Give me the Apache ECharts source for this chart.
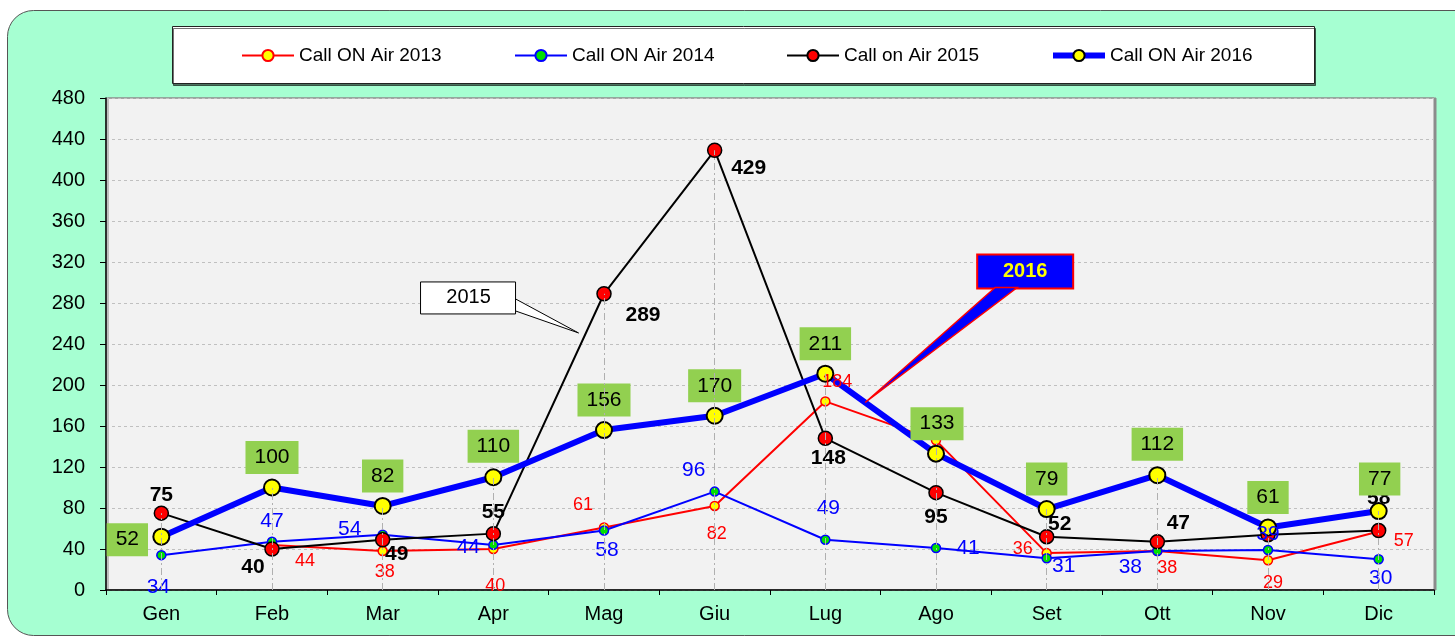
<!DOCTYPE html>
<html>
<head>
    <title>Call ON Air 2013-2016</title>
    <meta charset="utf-8" />
    <script src="https://cdn.jsdelivr.net/npm/echarts@6.0.0/dist/echarts.min.js"></script>
    <style type="text/css">
        html,
        body {
            width: 100%;
            height: 100%;
            margin: 0;
            background: #ffffff;
        }

        #main {
            width: 1455px;
            height: 639px;
        }
    </style>
</head>

<body>
    <div id="main"></div>
    <script>
        var months = ['Gen', 'Feb', 'Mar', 'Apr', 'Mag', 'Giu', 'Lug', 'Ago', 'Set', 'Ott', 'Nov', 'Dic'];
        var names = ['Call ON Air 2013', 'Call ON Air 2014', 'Call on Air 2015', 'Call ON Air 2016'];
        var call2013 = [null, 44, 38, 40, 61, 82, 184, 146, 36, 38, 29, 57];
        var call2014 = [34, 47, 54, 44, 58, 96, 49, 41, 31, 38, 39, 30];
        var call2015 = [75, 40, 49, 55, 289, 429, 148, 95, 52, 47, 54, 58];
        var call2016 = [52, 100, 82, 110, 156, 170, 211, 133, 79, 112, 61, 77];
        var yMin = 0, yMax = 480, yStep = 40;

        // posizione delle etichette rispetto al punto (pixel)
        var off2013 = [[0, 0], [33, 16], [2, 21], [2, 37], [-21, -22], [2, 28], [12, -19], [0, -20], [-24, -4], [10, 17], [5, 23], [25, 9]];
        var off2014 = [[-3, 32], [0, -21], [-33, -5], [-25, 2], [3, 20], [-21, -21], [3, -32], [32, 0], [17, 8], [-27, 16], [0, -16], [2, 19]];
        var off2015 = [[0, -18], [-19, 18], [14, 14], [0, -21], [39, 21], [34, 18], [3, 20], [0, 25], [13, -12], [21, -19], [0, -29], [0, -32]];
        var off2016 = [[-34, 3], [0, -30], [0, -30], [0, -31], [0, -30], [0, -30], [0, -30], [1, -30], [0, -30], [0, -31], [0, -30], [1, -32]];

        var font = "'Liberation Sans', Arial, sans-serif";

        function build(values, offs) {
            return values.map(function (v, i) {
                return { value: v, label: { offset: offs[i] } };
            });
        }

        var drops = months.map(function (m, i) {
            var top = Math.max(call2013[i] || 0, call2014[i], call2015[i], call2016[i]);
            return [{ coord: [m, 0] }, { coord: [m, top] }];
        });

        var chart = echarts.init(document.getElementById('main'));
        var legendLeft = [241, 514, 786, 1050];
        var legendLine = [2, 2, 2, 6];

        var option = {
            animation: false,
            textStyle: { fontFamily: font },
            grid: {
                left: 106, right: 21, top: 98, bottom: 49,
                show: true,
                backgroundColor: '#F2F2F2',
                borderColor: '#8C8C8C',
                borderWidth: 1,
                shadowColor: '#8C8C8C',
                shadowOffsetX: 2,
                shadowOffsetY: 0,
                shadowBlur: 0
            },
            legend: names.map(function (n, i) {
                return {
                    left: legendLeft[i],
                    top: 46,
                    padding: 0,
                    data: [n],
                    itemWidth: 52,
                    itemHeight: 14,
                    selectedMode: false,
                    lineStyle: { width: legendLine[i] },
                    textStyle: { fontSize: 19, color: '#000', fontFamily: font }
                };
            }),
            xAxis: {
                type: 'category',
                data: months,
                boundaryGap: true,
                axisLine: { lineStyle: { color: '#000', width: 1.5 } },
                axisTick: { show: true, length: 5, lineStyle: { color: '#000' } },
                axisLabel: { color: '#000', fontSize: 20, margin: 14, fontFamily: font },
                splitLine: { show: false }
            },
            yAxis: {
                type: 'value',
                min: yMin,
                max: yMax,
                interval: yStep,
                axisLine: { show: true, lineStyle: { color: '#000', width: 1.5 } },
                axisTick: { show: true, length: 6, lineStyle: { color: '#000' } },
                axisLabel: { color: '#000', fontSize: 20, margin: 21, fontFamily: font },
                splitLine: { lineStyle: { color: '#C0C0C0', type: [3, 3] } }
            },
            series: [
                {
                    name: 'drop',
                    type: 'line',
                    z: 1,
                    data: [],
                    markLine: {
                        silent: true,
                        symbol: ['none', 'none'],
                        label: { show: false },
                        lineStyle: { color: '#B0B0B0', type: [7, 3, 2, 3], width: 1 },
                        data: drops
                    }
                },
                {
                    name: names[0],
                    type: 'line',
                    data: build(call2013, off2013),
                    symbol: 'circle',
                    symbolSize: 9,
                    lineStyle: { color: '#FF0000', width: 2 },
                    itemStyle: { color: '#FFFF00', borderColor: '#FF0000', borderWidth: 1.5 },
                    label: { show: true, position: 'inside', color: '#FF0000', fontSize: 18, fontFamily: font }
                },
                {
                    name: names[1],
                    type: 'line',
                    data: build(call2014, off2014),
                    symbol: 'circle',
                    symbolSize: 9,
                    lineStyle: { color: '#0000FF', width: 2 },
                    itemStyle: { color: '#00E000', borderColor: '#0000FF', borderWidth: 1.5 },
                    label: { show: true, position: 'inside', color: '#0000FF', fontSize: 21, fontFamily: font }
                },
                {
                    name: names[2],
                    type: 'line',
                    data: build(call2015, off2015),
                    symbol: 'circle',
                    symbolSize: 14,
                    lineStyle: { color: '#000000', width: 2 },
                    itemStyle: { color: '#FF0000', borderColor: '#000000', borderWidth: 1.5 },
                    label: { show: true, position: 'inside', color: '#000', fontSize: 21, fontWeight: 'bold', fontFamily: font }
                },
                {
                    name: names[3],
                    type: 'line',
                    data: build(call2016, off2016),
                    symbol: 'circle',
                    symbolSize: 16,
                    lineStyle: { color: '#0000FF', width: 6 },
                    itemStyle: { color: '#FFFF00', borderColor: '#000000', borderWidth: 2 },
                    label: {
                        show: true, position: 'inside', color: '#000', fontSize: 21, fontFamily: font,
                        backgroundColor: '#92D050', padding: [6, 9]
                    }
                }
            ]
        };

        chart.setOption(option);

        // richiami "2015" e "2016" agganciati alle linee
        function px(i, v) {
            return chart.convertToPixel({ gridIndex: 0 }, [months[i], v]);
        }
        function along(values, i, t) {
            var a = px(i, values[i]), b = px(i + 1, values[i + 1]);
            return [a[0] + t * (b[0] - a[0]), a[1] + t * (b[1] - a[1])];
        }
        var tip15 = along(call2015, 3, 0.77);
        tip15[1] -= 16;
        var tip16 = along(call2016, 6, 0.36);

        chart.setOption({
            graphic: {
                elements: [
                    {
                        id: 'frame', type: 'rect', z: -10, silent: true,
                        shape: { x: 7.5, y: 10.5, width: 1500, height: 625, r: 26 },
                        style: { fill: '#A6FFD2', stroke: '#555555', lineWidth: 1 }
                    },
                    {
                        id: 'legendBox', type: 'rect', z: -5, silent: true,
                        shape: { x: 172.5, y: 26.5, width: 1142, height: 57 },
                        style: {
                            fill: '#ffffff', stroke: '#222222', lineWidth: 1,
                            shadowColor: 'rgba(0,0,0,0.55)', shadowOffsetX: 1, shadowOffsetY: 2, shadowBlur: 0
                        }
                    },
                    {
                        id: 'box15', type: 'rect', z: 100, silent: true,
                        shape: { x: tip15[0] - 158, y: tip15[1] - 51, width: 95, height: 32 },
                        style: { fill: '#ffffff', stroke: '#000000', lineWidth: 1 }
                    },
                    {
                        id: 'wedge15', type: 'polygon', z: 101, silent: true,
                        shape: { points: [[tip15[0] - 63, tip15[1] - 34], [tip15[0], tip15[1]], [tip15[0] - 63, tip15[1] - 22]] },
                        style: { fill: '#ffffff', stroke: '#000000', lineWidth: 1 }
                    },
                    {
                        id: 'text15', type: 'text', z: 102, silent: true,
                        x: tip15[0] - 110, y: tip15[1] - 35,
                        style: { text: '2015', fill: '#000', font: '20px ' + font, align: 'center', verticalAlign: 'middle' }
                    },
                    {
                        id: 'box16', type: 'rect', z: 100, silent: true,
                        shape: { x: tip16[0] + 112, y: tip16[1] - 148, width: 96, height: 34 },
                        style: { fill: '#0000FF', stroke: '#FF0000', lineWidth: 2 }
                    },
                    {
                        id: 'wedge16', type: 'polygon', z: 101, silent: true,
                        shape: { points: [[tip16[0] + 130, tip16[1] - 115], [tip16[0], tip16[1]], [tip16[0] + 152, tip16[1] - 115]] },
                        style: { fill: '#0000FF', stroke: '#FF0000', lineWidth: 1.5 }
                    },
                    {
                        id: 'text16', type: 'text', z: 102, silent: true,
                        x: tip16[0] + 160, y: tip16[1] - 131,
                        style: { text: '2016', fill: '#FFFF00', font: 'bold 20px ' + font, align: 'center', verticalAlign: 'middle' }
                    }
                ]
            }
        });
    </script>
</body>
</html>
